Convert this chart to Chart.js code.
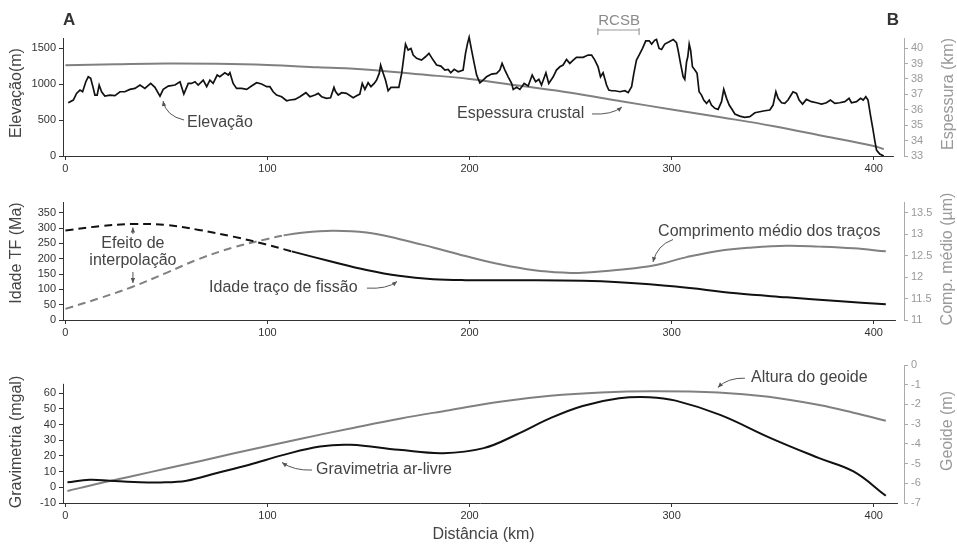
<!DOCTYPE html>
<html>
<head>
<meta charset="utf-8">
<script src="https://cdn.jsdelivr.net/npm/chart.js@4.4.1/dist/chart.umd.min.js"></script>
<style>
  html, body { margin: 0; padding: 0; background: #fff; }
  #wrap { position: relative; width: 957px; height: 544px; }
  canvas { position: absolute; left: 0; }
</style>
</head>
<body>
<div id="wrap">
  <canvas id="perfil" width="957" height="180" style="top:0px"></canvas>
  <canvas id="traco" width="957" height="165" style="top:180px"></canvas>
  <canvas id="grav" width="957" height="199" style="top:345px"></canvas>
</div>
<script>
// ---------------------
// data (km along profile A-B)
// ---------------------
var kmTicks = [0, 100, 200, 300, 400];

var elevKm = [1.4, 3.9, 5.5, 7.2, 8.5, 10.1, 11.3, 12.5, 13.8, 14.6, 15.7, 16.7, 17.9, 19.5, 22, 24.5, 27, 29.4, 31.9, 34.4,
  36.9, 39.3, 42.2, 44.3, 46.8, 48.4, 50.9, 54.2, 56.7, 58.6, 60.8, 62.4, 64.1, 65.7, 68.2, 69.9, 71.5, 73.1, 75.1, 76.4,
  78.9, 80.6, 81.4, 83, 84.7, 87.2, 89.7, 92.1, 94.6, 97.1, 99.6, 101.2, 102.8, 104.5, 107, 109.5, 111.1, 113.6, 116, 119,
  121, 123.5, 125.1, 126.8, 129.2, 131.2, 132.9, 133.6, 135, 136.7, 139.1, 142.4, 144.1, 145.7, 146.9, 148.2, 149.8, 151.2, 152.8, 154,
  155.3, 156, 157.3, 158.4, 159.7, 161.1, 163, 165, 166.4, 168.3, 169.6, 171, 172.1, 173.8, 176.2, 178.2, 179.9, 182, 183.7, 185.8,
  187.8, 189.4, 190.7, 192.4, 194.4, 196.8, 198, 199, 199.8, 201, 202.3, 203.5, 205.1, 206.7, 208.4, 210.9, 213.4, 215, 216.1, 217.5,
  219.1, 220.8, 221.6, 223.3, 224.9, 227, 229, 231, 232.7, 234.3, 235.6, 237.8, 239.2, 241.4, 243, 244.7, 246.3, 248, 249.6, 251.3,
  252.9, 256.2, 258.7, 260.4, 262, 263.6, 264.8, 266.1, 267.8, 268.9, 270.3, 271.9, 274.4, 276.9, 278.5, 280.2, 281.3, 282.6, 283.9, 285.6,
  287.2, 288.9, 290.1, 291.7, 292.5, 293.8, 295, 296.6, 298.8, 300.8, 302.4, 303.2, 304.4, 305.7, 306.5, 307.4, 308, 308.7, 309.4, 310.3,
  311.5, 312.6, 313.6, 314.8, 315.9, 317.3, 318.6, 319.7, 321.4, 323, 324.7, 325.8, 327.2, 328.5, 330.1, 331.3, 333.7, 336.2, 338.7, 341.2,
  343.6, 346.1, 348.6, 350.2, 351.6, 352.7, 354.4, 356, 357.6, 358.8, 360.1, 361.8, 363.1, 364.8, 366.7, 369.2, 371.7, 374.2, 376.6, 378.6,
  380.8, 383.2, 385.7, 387.8, 389, 391.5, 393.5, 394.8, 396.1, 397.2, 398.4, 399.7, 400.5, 401.4, 403, 405];
var elevM = [740, 778, 870, 917, 893, 1032, 1101, 1079, 940, 847, 847, 986, 893, 833, 847, 840, 893, 893, 926, 940,
  986, 940, 1009, 954, 833, 926, 972, 986, 1032, 861, 1009, 1009, 1032, 986, 1055, 963, 1055, 1009, 1125, 1101,
  1157, 1125, 1157, 1009, 940, 940, 926, 972, 1018, 1000, 963, 963, 893, 847, 824, 768, 778, 787, 824, 880,
  824, 847, 870, 824, 801, 810, 954, 900, 847, 880, 870, 810, 838, 861, 1009, 926, 1018, 963, 1009, 1055,
  1148, 1264, 1148, 1055, 907, 954, 954, 954, 1148, 1556, 1472, 1495, 1403, 1357, 1333, 1379, 1426, 1333, 1264, 1250,
  1194, 1204, 1157, 1204, 1171, 1194, 1426, 1565, 1650, 1472, 1287, 1125, 1018, 1055, 1101, 1139, 1148, 1194, 1287, 1194,
  1101, 1009, 926, 954, 926, 1009, 972, 1125, 1032, 1065, 986, 1157, 1009, 1101, 1194, 1240, 1264, 1343, 1287, 1333,
  1371, 1371, 1403, 1403, 1333, 1240, 1101, 1157, 986, 917, 907, 907, 893, 907, 880, 963, 1148, 1333, 1403, 1495,
  1601, 1601, 1556, 1611, 1620, 1495, 1481, 1556, 1588, 1620, 1574, 1472, 1287, 1101, 1065, 1310, 1379, 1556, 1472, 1240,
  1194, 1148, 893, 847, 778, 731, 778, 708, 662, 648, 755, 926, 801, 708, 639, 583, 555, 537, 546, 601,
  615, 629, 639, 708, 893, 801, 740, 731, 778, 833, 893, 870, 778, 722, 787, 755, 740, 722, 740, 778,
  731, 740, 755, 801, 740, 755, 801, 778, 824, 778, 569, 361, 222, 83, 28, 0];
var elevTicks = [0, 500, 1000, 1500];

var crustKm = [0, 25, 50, 75, 100, 125, 150, 175, 200, 225, 250, 275, 300, 325, 350, 375, 400, 405];
var crustThick = [38.88, 38.95, 39.0, 38.98, 38.9, 38.75, 38.6, 38.3, 38.0, 37.55, 37.1, 36.55, 36.02, 35.5, 34.95, 34.3, 33.65, 33.45];
var crustTicks = [33, 34, 35, 36, 37, 38, 39, 40];

var ageKm = [0, 17, 33, 50, 66, 83, 99, 112, 132, 149, 165, 182, 198, 230, 256, 274, 302, 332, 357, 382, 406];
var ageMa = [292, 306, 313, 310, 294, 272, 247, 224, 190, 163, 144, 133, 130, 130, 128, 123, 109, 87, 74, 62, 51];
var ageTicks = [0, 50, 100, 150, 200, 250, 300, 350];
var ageDashEnd = 112;

var lenKm = [0, 17, 33, 50, 66, 83, 100, 108, 116, 132, 149, 165, 182, 198, 215, 232, 248, 256, 274, 291, 307, 323, 340, 357, 373, 390, 406];
var lenUm = [11.26, 11.51, 11.77, 12.10, 12.42, 12.69, 12.89, 12.97, 13.03, 13.08, 13.04, 12.89, 12.69, 12.49, 12.30, 12.16, 12.10, 12.10, 12.17, 12.27, 12.46, 12.61, 12.69, 12.73, 12.71, 12.67, 12.60];
var lenTicks = [11, 11.5, 12, 12.5, 13, 13.5];
var lenDashEnd = 108;

var gravKm = [1, 12, 22, 34, 47, 60, 75, 91, 108, 126, 141, 165, 187, 207, 223, 240, 256, 274, 289, 302, 324, 349, 373, 390, 406];
var gravMgal = [3.2, 4.8, 4.2, 3.4, 3.1, 4.2, 9.1, 14.4, 20.7, 26.0, 27.1, 23.9, 21.8, 25.0, 33.5, 44.1, 51.9, 56.8, 57.5, 55.3, 46.2, 31.4, 18.6, 10.1, -5.4];
var gravTicks = [-10, 0, 10, 20, 30, 40, 50, 60];

var geoKm = [1, 17, 34, 50, 67, 83, 100, 116, 141, 166, 190, 215, 240, 265, 290, 323, 348, 373, 390, 406];
var geoM = [-6.39, -6.0, -5.62, -5.25, -4.87, -4.49, -4.11, -3.75, -3.22, -2.71, -2.29, -1.86, -1.56, -1.39, -1.33, -1.39, -1.61, -2.03, -2.42, -2.83];
var geoTicks = [-7, -6, -5, -4, -3, -2, -1, 0];

// ---------------------
// shared bits
// ---------------------
var INK = '#111111';
var GREY = '#808080';
var SOFT = '#999999';
var TEXT = '#444444';

Chart.defaults.font.family = 'Arial, "Liberation Sans", sans-serif';
Chart.defaults.font.size = 11;
Chart.defaults.color = '#333';

function pts(xs, ys) {
  return xs.map(function (k, i) { return { x: k, y: ys[i] }; });
}

function fixedTicks(values) {
  return function (scale) { scale.ticks = values.map(function (v) { return { value: v }; }); };
}

function xAxis(height, withTitle) {
  return {
    type: 'linear', min: -1.2, max: 415,
    afterBuildTicks: fixedTicks(kmTicks),
    afterFit: function (s) { s.height = height; },
    border: { display: false },
    grid: { drawOnChartArea: false, tickLength: 4, color: '#333' },
    ticks: { color: '#333', padding: 2, maxRotation: 0, callback: function (v) { return String(v); } },
    title: { display: withTitle, text: 'Distância (km)', color: TEXT, font: { size: 16 }, padding: 0 }
  };
}

function leftAxis(min, max, values, showBorder) {
  return {
    type: 'linear', position: 'left', min: min, max: max,
    afterBuildTicks: fixedTicks(values),
    afterFit: function (s) { s.width = 63; },
    border: { display: showBorder, color: '#333' },
    grid: { drawOnChartArea: false, tickLength: 4, color: '#333' },
    ticks: { color: '#333', padding: 3, callback: function (v) { return String(v); } }
  };
}

function rightAxis(min, max, values) {
  return {
    type: 'linear', position: 'right', min: min, max: max,
    afterBuildTicks: fixedTicks(values),
    afterFit: function (s) { s.width = 53; },
    border: { color: '#aaa' },
    grid: { drawOnChartArea: false, tickLength: 4, color: '#aaa' },
    ticks: { color: SOFT, padding: 3, callback: function (v) { return String(v); } }
  };
}

// labels, arrows and the custom axis pieces
var notesPlugin = {
  id: 'notes',
  afterDraw: function (chart, args, opts) {
    var ctx = chart.ctx, area = chart.chartArea;
    var sx = chart.scales.x, sy = chart.scales.y;
    var P = function (p) { return [sx.getPixelForValue(p[0]), sy.getPixelForValue(p[1])]; };
    ctx.save();

    // x axis line stops short of the right axis
    var yb = Math.round(area.bottom) + 0.5;
    ctx.strokeStyle = '#333';
    ctx.lineWidth = 1;
    ctx.beginPath();
    ctx.moveTo(area.left, yb);
    ctx.lineTo(sx.getPixelForValue(opts.xEnd), yb);
    ctx.stroke();

    if (opts.leftSpan) {
      var xl = Math.round(area.left) + 0.5;
      ctx.beginPath();
      ctx.moveTo(xl, sy.getPixelForValue(opts.leftSpan[0]));
      ctx.lineTo(xl, sy.getPixelForValue(opts.leftSpan[1]));
      ctx.stroke();
    }

    // rotated axis titles
    (opts.titles || []).forEach(function (t) {
      ctx.save();
      ctx.translate(t.x, t.y);
      ctx.rotate(-Math.PI / 2);
      ctx.font = '16px Arial, "Liberation Sans", sans-serif';
      ctx.fillStyle = t.color;
      ctx.textAlign = 'center';
      ctx.textBaseline = 'middle';
      ctx.fillText(t.text, 0, 0);
      ctx.restore();
    });

    (opts.lines || []).forEach(function (l) {
      var a = P(l[0]), b = P(l[1]);
      ctx.strokeStyle = '#999';
      ctx.lineWidth = 1.2;
      ctx.beginPath();
      ctx.moveTo(a[0], a[1]);
      ctx.lineTo(b[0], b[1]);
      ctx.stroke();
    });

    (opts.arrows || []).forEach(function (ar) {
      var a = P(ar.from), b = P(ar.to);
      var c = ar.ctrl ? P(ar.ctrl) : [(a[0] + b[0]) / 2, (a[1] + b[1]) / 2];
      ctx.strokeStyle = '#555';
      ctx.fillStyle = '#555';
      ctx.lineWidth = 1;
      ctx.beginPath();
      ctx.moveTo(a[0], a[1]);
      ctx.quadraticCurveTo(c[0], c[1], b[0], b[1]);
      ctx.stroke();
      var ang = Math.atan2(b[1] - c[1], b[0] - c[0]);
      ctx.beginPath();
      ctx.moveTo(b[0], b[1]);
      ctx.lineTo(b[0] - 5 * Math.cos(ang) + 2.2 * Math.sin(ang), b[1] - 5 * Math.sin(ang) - 2.2 * Math.cos(ang));
      ctx.lineTo(b[0] - 5 * Math.cos(ang) - 2.2 * Math.sin(ang), b[1] - 5 * Math.sin(ang) + 2.2 * Math.cos(ang));
      ctx.closePath();
      ctx.fill();
    });

    (opts.labels || []).forEach(function (l) {
      var p = P(l.at);
      ctx.font = l.font || '16px Arial, "Liberation Sans", sans-serif';
      ctx.fillStyle = l.color || TEXT;
      ctx.textAlign = l.align || 'left';
      ctx.textBaseline = 'middle';
      ctx.fillText(l.text, p[0], p[1]);
    });

    ctx.restore();
  }
};

// =====================
// Elevação / espessura crustal
// =====================
var ctxPerfil = document.getElementById('perfil').getContext('2d');
var perfilChart = new Chart(ctxPerfil, {
  type: 'line',
  data: {
    datasets: [
      { data: pts(elevKm, elevM), yAxisID: 'y', borderColor: INK, borderWidth: 1.7, pointRadius: 0, tension: 0, clip: false },
      { data: pts(crustKm, crustThick), yAxisID: 'y1', borderColor: GREY, borderWidth: 2, pointRadius: 0, tension: 0.4 }
    ]
  },
  options: {
    responsive: false, animation: false, devicePixelRatio: 1,
    layout: { padding: { top: 38, left: 0, right: 0, bottom: 0 } },
    plugins: {
      legend: { display: false }, tooltip: { enabled: false },
      notes: {
        xEnd: 410,
        titles: [
          { text: 'Elevação(m)', x: 17, y: 93, color: TEXT },
          { text: 'Espessura (km)', x: 949, y: 94, color: SOFT }
        ],
        lines: [
          [[263.5, 1751], [283.9, 1751]],
          [[263.5, 1779], [263.5, 1682]],
          [[283.9, 1779], [283.9, 1682]]
        ],
        arrows: [
          { from: [58.7, 500], ctrl: [49.8, 556], to: [48.3, 764] },
          { from: [260.6, 584], ctrl: [270.5, 570], to: [275.4, 681] }
        ],
        labels: [
          { text: 'A', at: [1.8, 1880], align: 'center', font: 'bold 17px Arial, "Liberation Sans", sans-serif', color: '#333' },
          { text: 'B', at: [409.5, 1890], align: 'center', font: 'bold 17px Arial, "Liberation Sans", sans-serif', color: '#333' },
          { text: 'RCSB', at: [274, 1876], align: 'center', font: '15px Arial, "Liberation Sans", sans-serif', color: '#8a8a8a' },
          { text: 'Elevação', at: [60.2, 466] },
          { text: 'Espessura crustal', at: [193.8, 584] }
        ]
      }
    },
    scales: {
      x: xAxis(24, false),
      y: leftAxis(0, 1640, elevTicks, true),
      y1: rightAxis(33, 33 + 1640 / 1500 * 7, crustTicks)
    }
  },
  plugins: [notesPlugin]
});

// =====================
// Idade traço de fissão / comprimento médio
// =====================
var ctxTraco = document.getElementById('traco').getContext('2d');
var tracoChart = new Chart(ctxTraco, {
  type: 'line',
  data: {
    datasets: [
      {
        data: pts(ageKm, ageMa), yAxisID: 'y', borderColor: INK, borderWidth: 2, pointRadius: 0, tension: 0.4,
        segment: { borderDash: function (c) { return c.p1.parsed.x <= ageDashEnd ? [8, 5] : []; } }
      },
      {
        data: pts(lenKm, lenUm), yAxisID: 'y1', borderColor: GREY, borderWidth: 2, pointRadius: 0, tension: 0.4,
        segment: { borderDash: function (c) { return c.p1.parsed.x <= lenDashEnd ? [8, 5] : []; } }
      }
    ]
  },
  options: {
    responsive: false, animation: false, devicePixelRatio: 1,
    layout: { padding: { top: 22, left: 0, right: 0, bottom: 0 } },
    plugins: {
      legend: { display: false }, tooltip: { enabled: false },
      notes: {
        xEnd: 411,
        titles: [
          { text: 'Idade TF (Ma)', x: 17, y: 73, color: TEXT },
          { text: 'Comp. médio (µm)', x: 948, y: 79, color: SOFT }
        ],
        arrows: [
          { from: [33.4, 280.6], to: [33.4, 301.8] },
          { from: [33.4, 156.6], to: [33.4, 120.7] },
          { from: [149.2, 104], ctrl: [159.1, 100], to: [164.1, 125.6] },
          { from: [300.7, 262.6], ctrl: [292.8, 244.7], to: [290.8, 189.2] }
        ],
        labels: [
          { text: 'Efeito de', at: [33.4, 248], align: 'center' },
          { text: 'interpolação', at: [33.4, 192.5], align: 'center' },
          { text: 'Idade traço de fissão', at: [71.1, 106.7] },
          { text: 'Comprimento médio dos traços', at: [293.3, 288] }
        ]
      }
    },
    scales: {
      x: xAxis(25, false),
      y: leftAxis(0, 385, ageTicks, true),
      y1: rightAxis(11, 11 + 385 / 350 * 2.5, lenTicks)
    }
  },
  plugins: [notesPlugin]
});

// =====================
// Gravimetria / geoide
// =====================
var ctxGrav = document.getElementById('grav').getContext('2d');
var gravChart = new Chart(ctxGrav, {
  type: 'line',
  data: {
    datasets: [
      { data: pts(gravKm, gravMgal), yAxisID: 'y', borderColor: INK, borderWidth: 2, pointRadius: 0, tension: 0.4 },
      { data: pts(geoKm, geoM), yAxisID: 'y1', borderColor: GREY, borderWidth: 2, pointRadius: 0, tension: 0.4 }
    ]
  },
  options: {
    responsive: false, animation: false, devicePixelRatio: 1,
    layout: { padding: { top: 20, left: 0, right: 0, bottom: 0 } },
    plugins: {
      legend: { display: false }, tooltip: { enabled: false },
      notes: {
        xEnd: 412,
        leftSpan: [-10, 66],
        titles: [
          { text: 'Gravimetria (mgal)', x: 17, y: 97, color: TEXT },
          { text: 'Geoide (m)', x: 948, y: 86, color: SOFT }
        ],
        arrows: [
          { from: [122, 11], ctrl: [113.1, 10.6], to: [107.2, 15.8] },
          { from: [336.3, 69.6], ctrl: [327.9, 70], to: [322.9, 63.7] }
        ],
        labels: [
          { text: 'Gravimetria ar-livre', at: [124, 11] },
          { text: 'Altura do geoide', at: [339.3, 70] }
        ]
      }
    },
    scales: {
      x: xAxis(41, true),
      y: leftAxis(-10, 78, gravTicks, false),
      y1: rightAxis(-7, 0, geoTicks)
    }
  },
  plugins: [notesPlugin]
});
</script>
</body>
</html>
